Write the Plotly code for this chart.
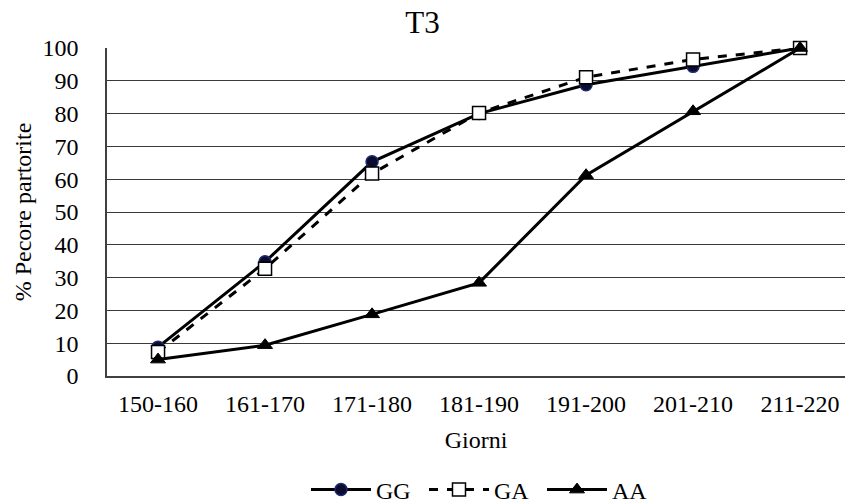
import plotly.graph_objects as go

categories = ["150-160", "161-170", "171-180", "181-190", "191-200", "201-210", "211-220"]
gg = [8.8, 34.8, 65.3, 80.0, 88.8, 94.4, 100.0]
ga = [7.3, 32.7, 61.7, 80.2, 91.1, 96.5, 100.0]
aa = [5.0, 9.4, 18.8, 28.4, 61.2, 80.7, 100.0]
y_ticks = list(range(0, 101, 10))

FONT = "Times New Roman, Liberation Serif, DejaVu Serif, serif"
W, H = 845, 503
L, T, B_PX = 107, 48, 376

fig = go.Figure()
fig.add_trace(go.Scatter(
    x=categories, y=gg, name="GG", mode="lines+markers", cliponaxis=False,
    line=dict(color="black", width=3),
    marker=dict(symbol="circle", size=12, color="#0b0b2e", line=dict(color="#1c2a6e", width=1.5)),
))
fig.add_trace(go.Scatter(
    x=categories, y=ga, name="GA", mode="lines+markers", cliponaxis=False,
    line=dict(color="black", width=3, dash="dash"),
    marker=dict(symbol="square", size=13, color="white", line=dict(color="black", width=1.5)),
))
fig.add_trace(go.Scatter(
    x=categories, y=aa, name="AA", mode="lines+markers", cliponaxis=False,
    line=dict(color="black", width=3),
    marker=dict(symbol="triangle-up", size=13, color="black", line=dict(color="black", width=1)),
))

fig.update_layout(
    width=W, height=H,
    margin=dict(l=L, r=0, t=T, b=H - B_PX),
    paper_bgcolor="white", plot_bgcolor="white",
    font=dict(family=FONT, size=24, color="black"),
    title=dict(text="T3", x=0.5, xref="container", xanchor="center", y=1 - 22 / H, yanchor="middle",
               font=dict(family=FONT, size=31, color="black")),
    showlegend=True,
    legend=dict(orientation="h", x=306 / W, xanchor="left", xref="container",
                yref="container", y=(H - 490) / H,
                yanchor="middle", itemwidth=60, entrywidth=43, entrywidthmode="pixels",
                font=dict(family=FONT, size=24, color="black"),
                tracegroupgap=0, itemsizing="trace"),
    xaxis=dict(
        type="category", range=[-0.477, 6.42], showgrid=False,
        showline=True, linecolor="#404040", linewidth=1.5, ticks="",
        tickfont=dict(family=FONT, size=24), ticklabelstandoff=5,
        title=dict(text="Giorni", standoff=16, font=dict(family=FONT, size=24)),
    ),
    yaxis=dict(
        range=[0, 100], tickvals=y_ticks, showgrid=True, gridcolor="#3a3a3a", gridwidth=1,
        showline=True, linecolor="#404040", linewidth=1.5, ticks="", zeroline=False,
        tickfont=dict(family=FONT, size=24), ticklabelstandoff=22,
        title=dict(text="% Pecore partorite", standoff=4, font=dict(family=FONT, size=24)),
    ),
)

fig.write_html("out.html")
